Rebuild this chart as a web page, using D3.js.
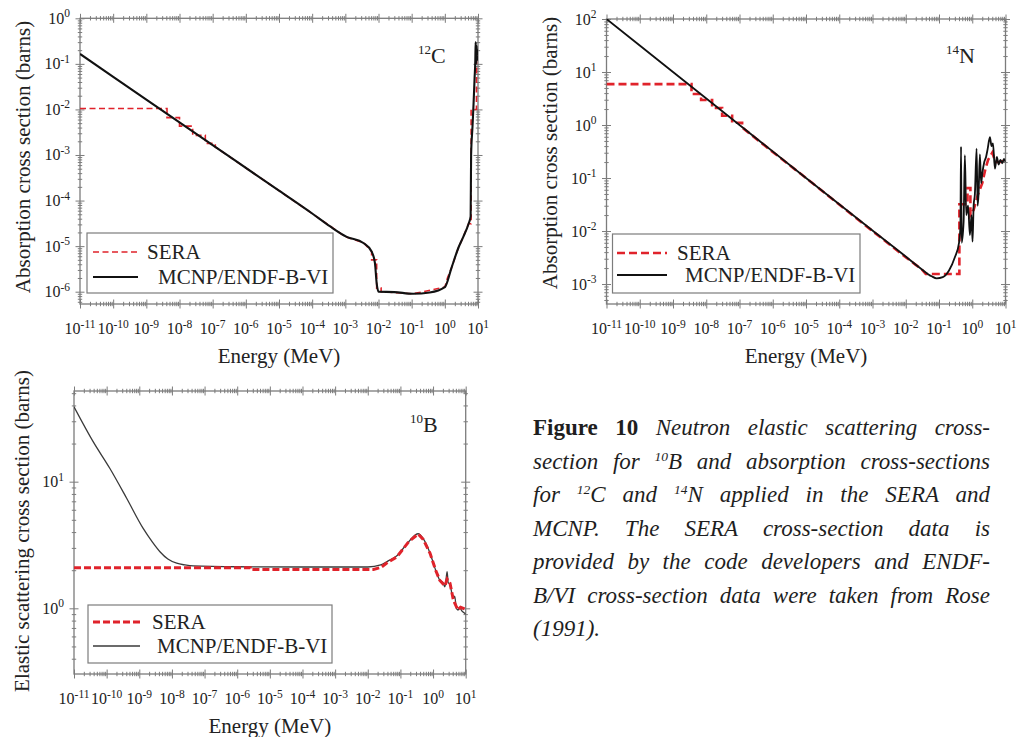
<!DOCTYPE html>
<html>
<head>
<meta charset="utf-8">
<script src="https://cdn.jsdelivr.net/npm/d3@7"></script>
<style>
  body { margin: 0; background: #fff; }
  #fig { position: relative; width: 1019px; height: 737px; overflow: hidden; }
  #fig svg { position: absolute; left: 0; top: 0; }
  .caption {
    position: absolute; left: 533px; top: 411px; width: 457px;
    font-family: "Liberation Serif", "Times New Roman", serif;
    font-size: 23px; line-height: 33.5px; color: #1e1e1e; font-style: italic;
  }
  .caption div { text-align: justify; text-align-last: justify; }
  .caption div.last { text-align-last: left; }
  .caption b { font-style: normal; }
  .caption sup { font-size: 13.5px; line-height: 0; vertical-align: 8px; }
</style>
</head>
<body>
<div id="fig">
  <div class="caption">
    <div><b>Figure 10</b> Neutron elastic scattering cross-</div>
    <div>section for <sup>10</sup>B and absorption cross-sections</div>
    <div>for <sup>12</sup>C and <sup>14</sup>N applied in the SERA and</div>
    <div>MCNP. The SERA cross-section data is</div>
    <div>provided by the code developers and ENDF-</div>
    <div>B/VI cross-section data were taken from Rose</div>
    <div class="last">(1991).</div>
  </div>
</div>
<script>
// ---- Data: [energy (MeV), cross section (barns)] ----

// 12C absorption, MCNP/ENDF-B-VI
const c12Mcnp = [
  [1e-11, 0.165], [1e-9, 0.0165], [1e-7, 1.65e-3], [1e-5, 1.65e-4], [1e-4, 5.2e-5],
  [3.5e-4, 2.7e-5], [1.1e-3, 1.6e-5], [3.5e-3, 1.17e-5], [6.2e-3, 7.6e-6],
  [7.8e-3, 4.3e-6], [8.8e-3, 1.55e-6], [1e-2, 1.0e-6], [3e-2, 9.8e-7], [0.11, 9.0e-7],
  [0.35, 9.6e-7], [1.0, 1.26e-6], [1.58, 3.3e-6], [2.55, 9.1e-6], [3.6, 1.6e-5],
  [5.2, 3.1e-5], [6.0, 4.5e-5], [6.2, 1e-3], [6.8, 4e-3], [7.4, 0.015], [7.9, 0.05],
  [8.3, 0.12], [8.5, 0.3], [8.8, 0.1], [9.1, 0.25], [9.4, 0.12], [9.7, 0.2], [10, 0.15]
];
// 12C absorption, SERA
const c12Sera = [
  [1e-11, 0.0105], [4.2e-9, 0.0105], [4.2e-9, 0.0066], [1e-8, 0.0066], [1e-8, 0.0043],
  [2.5e-8, 0.0043], [2.5e-8, 0.0027], [6e-8, 0.0027], [6e-8, 0.0018], [1.2e-7, 0.0018],
  [1.2e-7, 1.5e-3], [1e-5, 1.65e-4], [1e-4, 5.2e-5], [1e-3, 1.6e-5], [3.5e-3, 1.2e-5],
  [6.2e-3, 7.6e-6], [6.2e-3, 5e-6], [8.8e-3, 5e-6], [8.8e-3, 1.2e-6], [1.2e-2, 1.2e-6],
  [1.2e-2, 1.0e-6], [0.11, 9e-7], [1.0, 1.26e-6], [1.2, 2e-6], [1.58, 3.3e-6],
  [2.55, 9.1e-6], [3.6, 1.6e-5], [5.2, 3.1e-5], [6.2, 3.1e-5], [6.2, 0.01], [9.0, 0.01],
  [9.0, 0.15], [10, 0.15]
];

// 14N absorption, MCNP/ENDF-B-VI
const n14Mcnp = [
  [1e-11, 100], [1e-9, 10], [1e-7, 1.0], [1e-5, 0.1], [1e-3, 0.0102], [1e-2, 3.3e-3],
  [3e-2, 1.9e-3], [6e-2, 1.4e-3], [0.085, 1.28e-3], [0.13, 1.35e-3], [0.2, 1.8e-3],
  [0.3, 3.2e-3], [0.4, 6e-3], [0.44, 0.012], [0.46, 0.39], [0.48, 0.006], [0.55, 0.015],
  [0.6, 0.27], [0.66, 0.02], [0.75, 0.03], [0.85, 0.0084], [0.95, 0.02], [1.02, 0.0063],
  [1.1, 0.03], [1.2, 0.05], [1.35, 0.36], [1.45, 0.03], [1.55, 0.05], [1.7, 0.28],
  [1.85, 0.08], [2.0, 0.12], [2.3, 0.2], [2.6, 0.25], [2.9, 0.35], [3.4, 0.59],
  [3.8, 0.4], [4.2, 0.45], [4.8, 0.15], [5.5, 0.25], [6.2, 0.18], [7, 0.22], [8, 0.19],
  [9, 0.23], [10, 0.2]
];
// 14N absorption, SERA
const n14Sera = [
  [1e-11, 5.9], [3.6e-9, 5.9], [3.6e-9, 3.85], [7e-9, 3.85], [7e-9, 2.96], [1.5e-8, 2.96],
  [1.5e-8, 2.1], [3e-8, 2.1], [3e-8, 1.5], [6e-8, 1.5], [6e-8, 1.1], [1.2e-7, 1.1],
  [1.2e-7, 0.9], [1e-6, 0.31], [1e-5, 0.1], [1e-4, 0.0316], [1e-3, 0.01], [1e-2, 3.2e-3],
  [2e-2, 2.3e-3], [3e-2, 1.9e-3], [4e-2, 1.55e-3], [0.41, 1.55e-3], [0.41, 0.032],
  [0.72, 0.032], [0.72, 0.065], [0.88, 0.065], [0.88, 0.02], [1.1, 0.025], [1.5, 0.05],
  [2, 0.08], [2.5, 0.15], [3, 0.22], [4, 0.3], [5, 0.2], [7, 0.2], [10, 0.22]
];

// 10B elastic scattering, MCNP/ENDF-B-VI
const b10Mcnp = [
  [1e-11, 39], [3.9e-11, 20.6], [1.26e-10, 12.7], [4.1e-10, 7.4], [1.3e-9, 4.3],
  [2.5e-9, 3.35], [4.3e-9, 2.8], [7.5e-9, 2.45], [1.4e-8, 2.27], [2.5e-8, 2.2],
  [4.5e-8, 2.16], [1e-6, 2.13], [1e-4, 2.12], [1e-2, 2.12],
  [2.5e-2, 2.2], [4e-2, 2.35], [7.8e-2, 2.6], [0.18, 3.36], [0.35, 3.88], [0.5, 3.55],
  [0.81, 2.72], [1.2, 2.0], [1.6, 1.67], [2.0, 1.6], [2.3, 1.48], [2.5, 1.7], [2.7, 1.95],
  [2.9, 1.6], [3.3, 1.55], [3.8, 1.3], [4.2, 1.2], [4.6, 1.25], [5.2, 1.0], [5.9, 0.97],
  [6.5, 1.02], [7.5, 0.96], [8.5, 0.93], [10, 0.9]
];
// 10B elastic scattering, SERA
const b10Sera = [
  [1e-11, 2.09], [2.5e-6, 2.09], [2.5e-6, 2.03], [1.5e-2, 2.03], [2.5e-2, 2.1],
  [4e-2, 2.3], [7.8e-2, 2.55], [0.18, 3.36], [0.35, 3.86], [0.5, 3.5], [0.81, 2.72],
  [1.2, 2.0], [1.6, 1.67], [2.3, 1.5], [2.7, 1.7], [3.3, 1.58], [4.2, 1.16], [5.0, 1.05],
  [5.9, 0.97], [7, 1.02], [8.5, 1.0], [10, 0.98]
];

// Axis tick values
const energyTicks = [1e-11, 1e-10, 1e-9, 1e-8, 1e-7, 1e-6, 1e-5, 1e-4, 1e-3, 1e-2, 1e-1, 1e0, 1e1];
const c12Ticks = [1e-6, 1e-5, 1e-4, 1e-3, 1e-2, 1e-1, 1e0];
const n14Ticks = [1e-3, 1e-2, 1e-1, 1e0, 1e1, 1e2];
const b10Ticks = [1e0, 1e1];

const seriesNames = ["SERA", "MCNP/ENDF-B-VI"];
const energyTitle = "Energy (MeV)";

// ---- Drawing ----
const FONT = '"Liberation Serif", "Times New Roman", serif';
const FRAME = "#7c7c7c";
const RED = "#e0232b";

const panels = [
  {
    key: "c12", l: 80, r: 478, t: 18.3, b: 304, yDomain: [5.37e-7, 1], yTicks: c12Ticks,
    mcnp: c12Mcnp, sera: c12Sera, seraOnTop: false,
    yTitle: "Absorption cross section (barns)", yTitleX: 30, yTitleY: 157,
    iso: ["12", "C"], isoX: 418, isoY: 63,
    legend: { x: 87, y: 233, w: 246, h: 60, lx0: 93, lx1: 138, r1: 252, r2: 277, t1: 147, t2: 158 },
    sera_style: { w: 1.6, dash: "6,3.5" }, mcnp_style: { w: 2.1, c: "#111" }
  },
  {
    key: "n14", l: 606.5, r: 1005.5, t: 19, b: 304, yDomain: [4.2e-4, 100], yTicks: n14Ticks,
    mcnp: n14Mcnp, sera: n14Sera, seraOnTop: false,
    yTitle: "Absorption cross section (barns)", yTitleX: 557, yTitleY: 153,
    iso: ["14", "N"], isoX: 946, isoY: 63,
    legend: { x: 612.5, y: 234, w: 247.5, h: 59, lx0: 617, lx1: 667, r1: 253, r2: 275, t1: 677, t2: 685 },
    sera_style: { w: 2.6, dash: "8,4" }, mcnp_style: { w: 1.8, c: "#111" }
  },
  {
    key: "b10", l: 74, r: 465.7, t: 391, b: 674, yDomain: [0.303, 52], yTicks: b10Ticks,
    mcnp: b10Mcnp, sera: b10Sera, seraOnTop: true,
    yTitle: "Elastic scattering cross section (barns)", yTitleX: 29, yTitleY: 531,
    iso: ["10", "B"], isoX: 410, isoY: 432,
    legend: { x: 88, y: 605, w: 244, h: 58, lx0: 93, lx1: 140, r1: 622, r2: 646, t1: 152, t2: 157 },
    sera_style: { w: 3, dash: "7,3" }, mcnp_style: { w: 1.3, c: "#3a3a3a" }
  }
];

const svg = d3.select("#fig").insert("svg", ":first-child")
  .attr("width", 1019).attr("height", 737)
  .style("font-family", FONT);

function minorValues(domain) {
  const lo = Math.floor(Math.log10(domain[0]));
  const hi = Math.ceil(Math.log10(domain[1]));
  const out = [];
  for (let k = lo; k <= hi; k++) {
    for (let m = 2; m <= 9; m++) {
      const v = m * Math.pow(10, k);
      if (v >= domain[0] * 0.999 && v <= domain[1] * 1.001) out.push(v);
    }
  }
  return out;
}

// ticks crossing the frame: one set outward, one inward
function crossTicks(g, axisMaker, scale, values, size, tx, ty) {
  [size, -size].forEach(s => {
    const a = g.append("g").attr("transform", `translate(${tx},${ty})`)
      .call(axisMaker(scale).tickValues(values).tickSizeInner(s).tickSizeOuter(0).tickFormat(() => ""));
    a.select(".domain").remove();
    a.selectAll("line").attr("stroke", FRAME).attr("stroke-width", 1);
  });
}

function powerLabel(sel, v) {
  const e = Math.round(Math.log10(v));
  sel.append("tspan").text("10");
  sel.append("tspan").attr("font-size", 11.5).attr("dy", -6.5).text(String(e));
}

panels.forEach(p => {
  const x = d3.scaleLog().domain([1e-11, 10]).range([p.l, p.r]);
  const y = d3.scaleLog().domain(p.yDomain).range([p.b, p.t]);
  const g = svg.append("g");

  g.append("clipPath").attr("id", "clip-" + p.key)
    .append("rect").attr("x", p.l).attr("y", p.t).attr("width", p.r - p.l).attr("height", p.b - p.t);

  // ticks on all four sides
  const xMinor = minorValues(x.domain());
  const yMinor = minorValues(y.domain());
  [p.b, p.t].forEach(yy => {
    crossTicks(g, d3.axisBottom, x, energyTicks, 4.5, 0, yy);
    crossTicks(g, d3.axisBottom, x, xMinor, 2.2, 0, yy);
  });
  [p.l, p.r].forEach(xx => {
    crossTicks(g, d3.axisLeft, y, p.yTicks, 4.5, xx, 0);
    crossTicks(g, d3.axisLeft, y, yMinor, 2.2, xx, 0);
  });

  // frame
  g.append("rect").attr("x", p.l).attr("y", p.t).attr("width", p.r - p.l).attr("height", p.b - p.t)
    .attr("fill", "none").attr("stroke", FRAME).attr("stroke-width", 1.3);

  // tick labels
  energyTicks.forEach(v => {
    g.append("text").attr("x", x(v)).attr("y", p.b + 30).attr("text-anchor", "middle")
      .attr("font-size", 16).attr("fill", "#222").call(powerLabel, v);
  });
  p.yTicks.forEach(v => {
    g.append("text").attr("x", p.l - 10).attr("y", y(v) + 5.5).attr("text-anchor", "end")
      .attr("font-size", 16).attr("fill", "#222").call(powerLabel, v);
  });

  // axis titles
  g.append("text").attr("x", (p.l + p.r) / 2).attr("y", p.b + 59).attr("text-anchor", "middle")
    .attr("font-size", 21).attr("fill", "#222").text(energyTitle);
  g.append("text").attr("transform", `translate(${p.yTitleX},${p.yTitleY}) rotate(-90)`)
    .attr("text-anchor", "middle").attr("font-size", 21).attr("fill", "#222").text(p.yTitle);

  // isotope label
  const iso = g.append("text").attr("x", p.isoX).attr("y", p.isoY).attr("fill", "#222").attr("font-size", 22);
  iso.append("tspan").attr("font-size", 13).attr("dy", -9).text(p.iso[0]);
  iso.append("tspan").attr("dy", 9).text(p.iso[1]);

  // curves
  const seraLine = d3.line().x(d => x(d[0])).y(d => y(d[1]));
  const mcnpLine = d3.line().x(d => x(d[0])).y(d => y(d[1])).curve(d3.curveMonotoneX);
  const plot = g.append("g").attr("clip-path", `url(#clip-${p.key})`);
  const drawSera = () => plot.append("path").datum(p.sera).attr("d", seraLine).attr("fill", "none")
    .attr("stroke", RED).attr("stroke-width", p.sera_style.w).attr("stroke-dasharray", p.sera_style.dash);
  const drawMcnp = () => plot.append("path").datum(p.mcnp).attr("d", mcnpLine).attr("fill", "none")
    .attr("stroke", p.mcnp_style.c).attr("stroke-width", p.mcnp_style.w).attr("stroke-linejoin", "round");
  if (p.seraOnTop) { drawMcnp(); drawSera(); } else { drawSera(); drawMcnp(); }

  // legend
  const L = p.legend;
  const lg = g.append("g");
  lg.append("rect").attr("x", L.x).attr("y", L.y).attr("width", L.w).attr("height", L.h)
    .attr("fill", "#fff").attr("stroke", FRAME).attr("stroke-width", 1.2);
  lg.append("line").attr("x1", L.lx0).attr("x2", L.lx1).attr("y1", L.r1).attr("y2", L.r1)
    .attr("stroke", RED).attr("stroke-width", p.sera_style.w).attr("stroke-dasharray", p.sera_style.dash);
  lg.append("line").attr("x1", L.lx0).attr("x2", L.lx1).attr("y1", L.r2).attr("y2", L.r2)
    .attr("stroke", p.mcnp_style.c).attr("stroke-width", p.mcnp_style.w);
  lg.append("text").attr("x", L.t1).attr("y", L.r1 + 7).attr("font-size", 21).attr("fill", "#222").text(seriesNames[0]);
  lg.append("text").attr("x", L.t2).attr("y", L.r2 + 7).attr("font-size", 21).attr("fill", "#222").text(seriesNames[1]);
});
</script>
</body>
</html>
